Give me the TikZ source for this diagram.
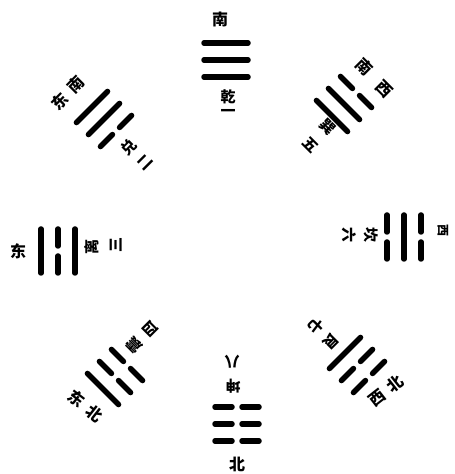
\documentclass[tikz,border=0pt]{standalone}
\usepackage{fontspec}
\newfontfamily\cjk{Noto Sans CJK SC}
\tikzset{
  yaoline/.style={line width=5.5pt, line cap=round, black},
  lab/.style={font=\cjk\bfseries\fontsize{15}{16}\selectfont, inner sep=0pt},
  dirlab/.style={font=\cjk\bfseries\fontsize{16}{17}\selectfont, inner sep=0pt},
}
\newcommand\yao[2]{%
  \ifnum#2=1
    \draw[yaoline] (-22,#1) -- (22,#1);
  \else
    \draw[yaoline] (-22,#1) -- (-5,#1);
    \draw[yaoline] (5,#1) -- (22,#1);
  \fi}
\newcommand\gua[6]{%
  \begin{scope}[shift={(#1,#2)},rotate=#3]
    \yao{17}{#4}\yao{0}{#5}\yao{-17}{#6}
  \end{scope}}
\begin{document}
\begin{tikzpicture}[x=1pt,y=1pt]
\useasboundingbox (0,0) rectangle (455,474);
\fill[white] (0,0) rectangle (455,474);
% trigrams: x, y, rotation, bottom(outer), middle, top(inner)
\gua{226}{414}{0}{1}{1}{1}     % qian
\gua{104}{355}{45}{1}{1}{0}    % dui
\gua{58}{223}{90}{1}{0}{1}     % li
\gua{115}{97}{135}{1}{0}{0}    % zhen
\gua{344}{370}{-45}{0}{1}{1}   % xun
\gua{404}{237}{-90}{0}{1}{0}   % kan
\gua{357}{109}{-135}{0}{0}{1}  % gen
\gua{237}{50}{180}{0}{0}{0}    % kun
% names with numbers
\node[lab] (qian) at (228,377) {乾};
\node[lab] (one) at (228,361) {一};
\node[lab,rotate=45] (dui) at (129,327) {兑};
\node[lab,rotate=45] (two) at (145,312) {二};
\node[lab,rotate=90] (li) at (92,227) {离};
\node[lab,rotate=90] (three) at (116,229) {三};
\node[lab,rotate=135] (zhen) at (134,129) {震};
\node[lab,rotate=135] (four) at (150,145) {四};
\node[lab,rotate=-45] (xun) at (328,347) {巽};
\node[lab,rotate=-45] (five) at (311,329) {五};
\node[lab,rotate=-90] (kan) at (371,239) {坎};
\node[lab,rotate=-90] (six) at (349,239) {六};
\node[lab,rotate=-135] (gen) at (331,132) {艮};
\node[lab,rotate=-135] (seven) at (316,148) {七};
\node[lab,rotate=180] (kun) at (233,88) {坤};
\node[lab,rotate=180] (eight) at (232,112) {八};
% directions
\node[dirlab] (s) at (220,455) {南};
\node[dirlab] (n) at (237,10) {北};
\node[dirlab] (e) at (18,223) {东};
\node[dirlab,font=\cjk\bfseries\fontsize{12}{13}\selectfont,rotate=-90] (w) at (443,243) {西};
\node[dirlab,rotate=45] (se) at (68,381) {东\hspace{7pt}南};
\node[dirlab,rotate=-45] (sw1) at (364,407) {南};
\node[dirlab,rotate=-45] (sw2) at (384,385) {西};
\node[dirlab,rotate=-38] (ne) at (86,68) {东\hspace{7pt}北};
\node[dirlab,rotate=38] (nw) at (386,83) {西\hspace{7pt}北};
\end{tikzpicture}
\end{document}
